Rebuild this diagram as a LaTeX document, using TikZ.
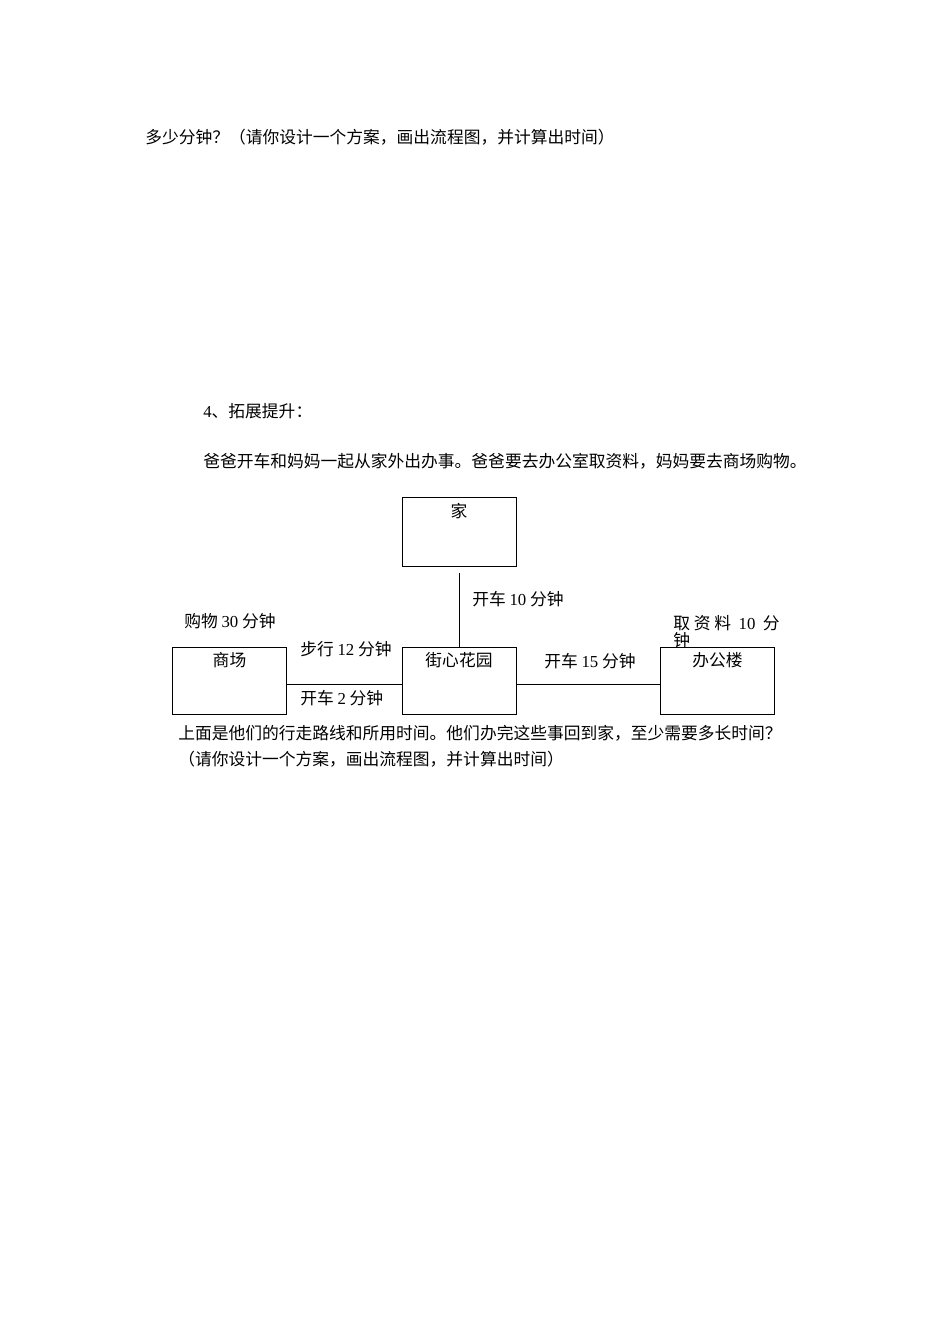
\documentclass[tikz,border=0pt]{standalone}
\usepackage{fontspec}
\setmainfont{Liberation Serif}
\newfontfamily\cjk{Noto Sans CJK SC}
\usetikzlibrary{positioning}
\newcommand\px{0.6265pt}
\newcommand\numtxt[1]{{\rmfamily #1}}
\tikzset{txt/.style={anchor=west, inner sep=0pt, font=\fontsize{10.5pt}{13pt}\cjk},
  place/.style={draw, line width=0.6pt, rectangle, minimum width=114*\px, minimum height=67*\px, inner sep=0pt},
  road/.style={line width=0.6pt}}

\begin{document}
\begin{tikzpicture}[x=\px, y=-\px]
    \useasboundingbox (0,0) rectangle (950,1344);
    \node[txt] (Q1) at (145,137) {多少分钟？（请你设计一个方案，画出流程图，并计算出时间）};
    \node[txt] (T4) at (203,411) {\numtxt{4}、拓展提升：};
    \node[txt] (S1) at (203,461) {爸爸开车和妈妈一起从家外出办事。爸爸要去办公室取资料，妈妈要去商场购物。};
    \node[place, minimum height=69*\px, label={[name=homeTxt, txt, anchor=north, yshift=-6.5*\px]north:家}] (home) at (459,531.5) {};
    \node[place, label={[name=mallTxt, txt, anchor=north, yshift=-6*\px]north:商场}] (mall) at (229.5,680.5) {};
    \node[place, label={[name=gardenTxt, txt, anchor=north, yshift=-6*\px]north:街心花园}] (garden) at (459,680.5) {};
    \node[place, label={[name=officeTxt, txt, anchor=north, yshift=-6*\px]north:办公楼}] (office) at (717.5,680.5) {};
    \coordinate (roadTop) at (459,573);
    \draw[road] (roadTop) -- (garden.north);
    \draw[road] ([yshift=-3.5*\px]mall.east) -- ([yshift=-3.5*\px]garden.west);
    \draw[road] ([yshift=-3.5*\px]garden.east) -- ([yshift=-3.5*\px]office.west);
    \node[txt] (L1) at (472,599) {开车 \numtxt{10} 分钟};
    \node[txt] (L2) at (184,621) {购物 \numtxt{30} 分钟};
    \node[txt] (L3) at (300,649) {步行 \numtxt{12} 分钟};
    \node[txt] (L4) at (300,698) {开车 \numtxt{2} 分钟};
    \node[txt] (L5) at (544,661) {开车 \numtxt{15} 分钟};
    \node[txt, align=left, anchor=north west, font=\fontsize{10.5pt}{10.6pt}\cjk] (L6) at (673,615) {取\ 资\ 料\ \ \numtxt{10}\ \ 分\\钟};
    \node[txt] (S2) at (178,733) {上面是他们的行走路线和所用时间。他们办完这些事回到家，至少需要多长时间？};
    \node[txt] (S3) at (178,759) {（请你设计一个方案，画出流程图，并计算出时间）};
\end{tikzpicture}
\end{document}
